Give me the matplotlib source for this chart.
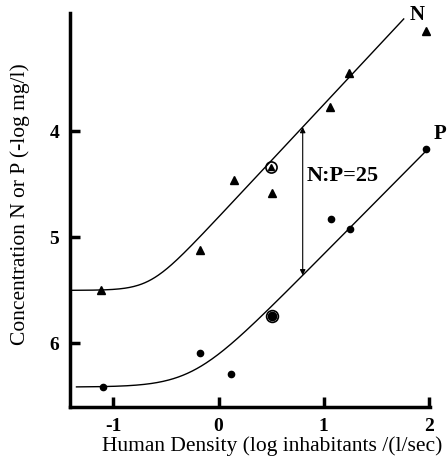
import numpy as np
import matplotlib
matplotlib.use("Agg")
import matplotlib.pyplot as plt

plt.rcParams['font.family'] = ['Liberation Serif', 'DejaVu Serif']

# N (triangles) - log inhabitants vs -log mg/l
n_x = [-1.12, -0.18, 0.15, 0.51, 1.06, 1.24, 1.97]
n_y = [5.50, 5.12, 4.46, 4.58, 3.77, 3.45, 3.06]
n_mark_x, n_mark_y = 0.50, 4.34   # circled triangle

# P (dots)
p_x = [-1.10, -0.18, 0.12, 1.07, 1.25, 1.97]
p_y = [6.41, 6.09, 6.29, 4.83, 4.92, 4.17]
p_mark_x, p_mark_y = 0.51, 5.74   # circled dot

# fitted curves: plateau, slope, break point, width, x range
n_fit = dict(base=5.50, slope=1.06, x0=-0.65, w=0.30, x1=-1.41, x2=1.76)
p_fit = dict(base=6.41, slope=1.00, x0=-0.25, w=0.50, x1=-1.35, x2=1.97)

ratio_x = 0.80
xticks = [-1, 0, 1, 2]
yticks = [4, 5, 6]


def fit_curve(f, x):
    return f['base'] - f['slope'] * f['w'] * np.log10(1 + 10 ** ((x - f['x0']) / f['w']))


fig = plt.figure(figsize=(4.47, 4.67), dpi=100)
ax = fig.add_axes([0.157, 0.128, 0.805, 0.844])

for f in (n_fit, p_fit):
    xs = np.linspace(f['x1'], f['x2'], 300)
    ax.plot(xs, fit_curve(f, xs), color='black', lw=1.0)

ax.plot(n_x, n_y, '^', color='black', ms=5.5, ls='none')
ax.plot(p_x, p_y, 'o', color='black', ms=4.5, ls='none')
ax.plot([n_mark_x], [n_mark_y], '^', color='black', ms=4.5)
ax.plot([n_mark_x], [n_mark_y], 'o', mfc='none', mec='black', ms=8, mew=1.2)
ax.plot([p_mark_x], [p_mark_y], 'o', color='black', ms=6)
ax.plot([p_mark_x], [p_mark_y], 'o', mfc='none', mec='black', ms=8.5, mew=1.2)

y_top = fit_curve(n_fit, ratio_x)
y_bot = fit_curve(p_fit, ratio_x)
ax.annotate('', xy=(ratio_x, y_top), xytext=(ratio_x, y_bot),
            arrowprops=dict(arrowstyle='<|-|>', color='black', lw=0.8,
                            mutation_scale=8, shrinkA=0, shrinkB=0))
ax.text(ratio_x + 0.04, 4.42, 'N:P=25', fontsize=16,
        fontweight='bold', va='center', ha='left')
ax.text(1.82, 2.91, 'N', fontsize=15, fontweight='bold', ha='left', va='center',
        clip_on=False)
ax.text(2.04, 4.03, 'P', fontsize=15, fontweight='bold', ha='left', va='center',
        clip_on=False)

ax.set_xlim(-1.41, 2.01)
ax.set_ylim(6.60, 2.89)
ax.set_xticks(xticks)
ax.set_yticks(yticks)
ax.set_xticklabels([str(t) for t in xticks], fontsize=14, fontweight='bold')
ax.set_yticklabels([str(t) for t in yticks], fontsize=14, fontweight='bold')
ax.tick_params(direction='in', length=7, width=2.5)
ax.tick_params(axis='x', pad=7.5)
ax.tick_params(axis='y', pad=8)

for s in ('top', 'right'):
    ax.spines[s].set_visible(False)
for s in ('left', 'bottom'):
    ax.spines[s].set_linewidth(2.5)

fig.text(272 / 447, 1 - 446 / 467, 'Human Density (log inhabitants /(l/sec)',
         fontsize=15.5, ha='center', va='center')
fig.text(20 / 447, 1 - 204 / 467, 'Concentration N or P (-log mg/l)',
         fontsize=15.5, ha='center', va='center', rotation=90)

fig.savefig('out.png', dpi=100)
